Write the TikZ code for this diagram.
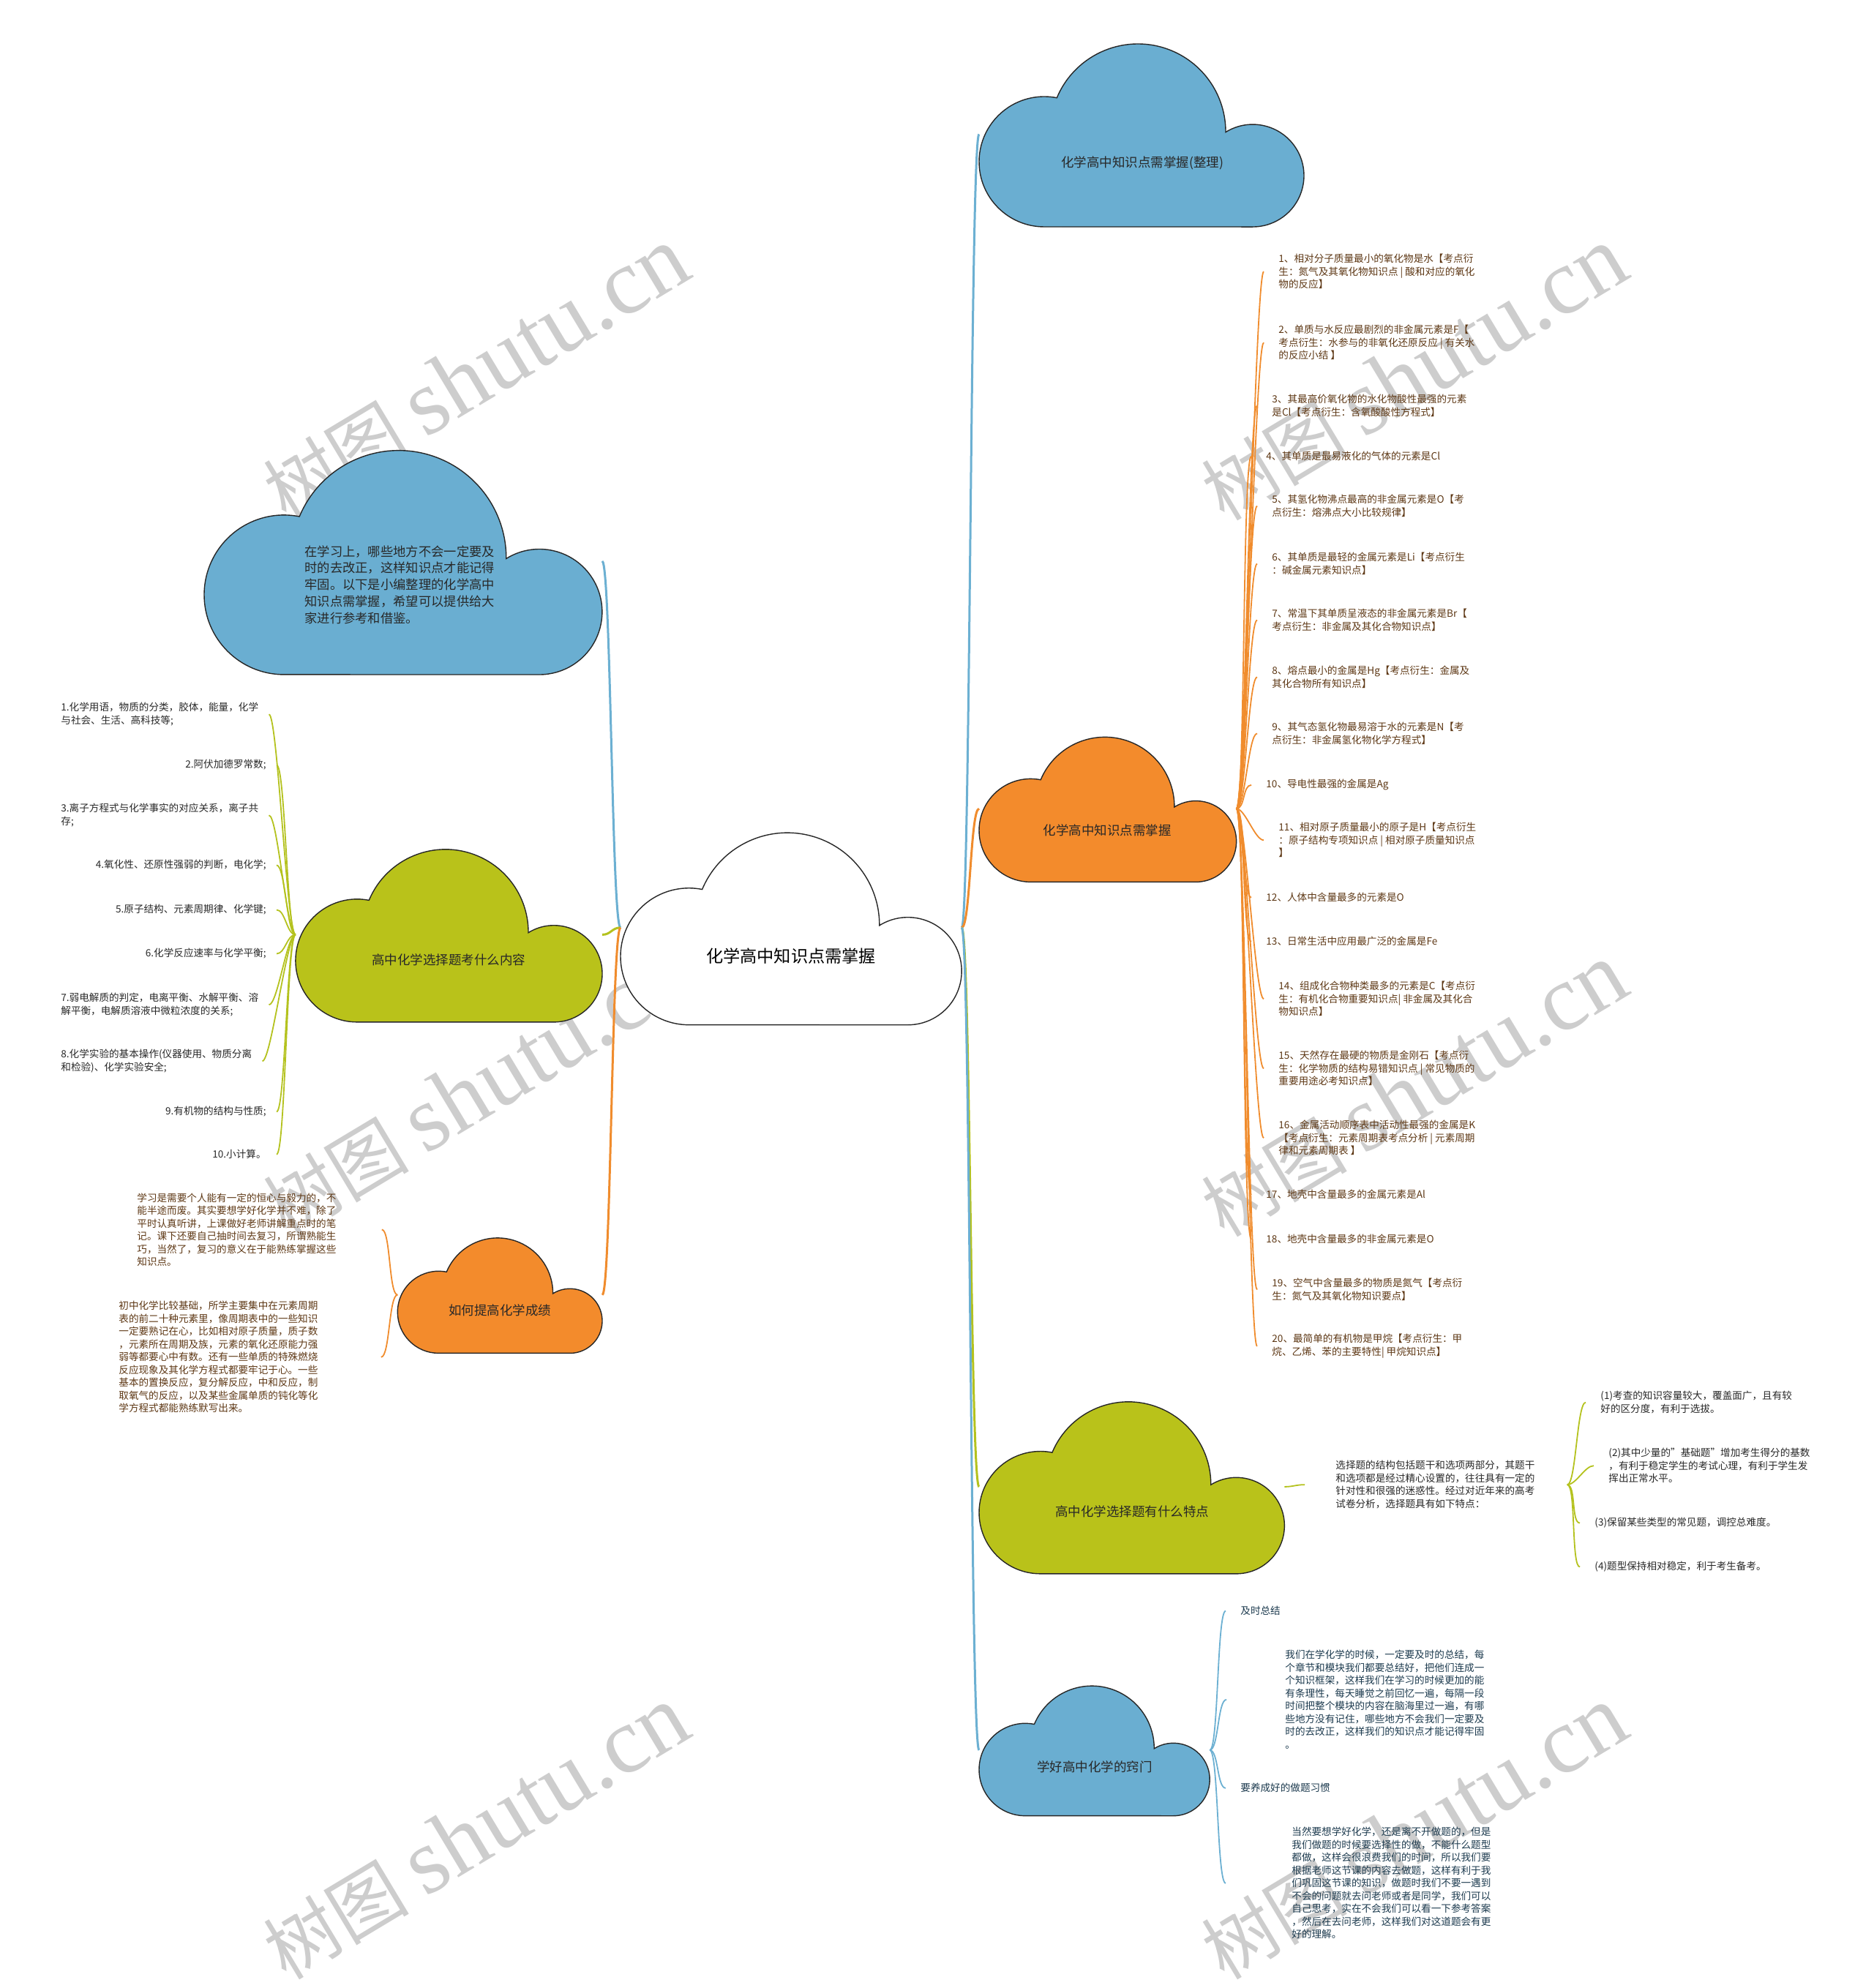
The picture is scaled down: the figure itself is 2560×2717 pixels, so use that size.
\documentclass[tikz,border=0pt]{standalone}
\usepackage{fontspec}
\setmainfont{Noto Sans CJK SC}
\newfontfamily\wmlatin{Liberation Serif}
\usepackage{tikz}
\definecolor{cloudBlue}{RGB}{106,174,209}
\definecolor{cloudOrange}{RGB}{243,139,44}
\definecolor{cloudGreen}{RGB}{185,194,26}
\definecolor{lineBlue}{RGB}{108,176,210}
\definecolor{lineOrange}{RGB}{240,140,45}
\definecolor{lineGreen}{RGB}{180,194,30}
\definecolor{txtBrown}{RGB}{93,55,20}
\definecolor{txtDark}{RGB}{40,40,40}
\definecolor{txtNavy}{RGB}{28,58,78}
\definecolor{wmGray}{RGB}{205,205,205}

% cloud outline: name, left, top, scale, fill
\newcommand{\drawcloud}[5]{%
  \filldraw[cloudedge, fill=#5, shift={(#2,#3)}, scale=#4]
    (89,253) arc[start angle=90, end angle=281.2, radius=89]
    arc[start angle=202.7, end angle=360.3, radius=120]
    arc[start angle=238.1, end angle=450, radius=70] -- cycle;
  \coordinate (#1-w) at (#2,{#3+126.5*#4});
  \coordinate (#1-e) at ({#2+444*#4},{#3+126.5*#4});
}

\begin{document}
\begin{tikzpicture}[x=0.5pt,y=-0.5pt,
    cloudedge/.style={draw=black!85, line width=0.7pt},
    cloudtext/.style={font=\fontsize{8.75pt}{10.5pt}\selectfont, text=txtDark, inner sep=0pt},
    smalltxt/.style={font=\fontsize{6.8pt}{8.75pt}\selectfont, inner sep=0pt, align=left},
    mainlink/.style={line width=1.5pt},
    sublink/.style={line width=0.9pt},
    rlink/.style={to path={.. controls +(12,0) and +(-12,0) .. (\tikztotarget)}},
    llink/.style={to path={.. controls +(-12,0) and +(12,0) .. (\tikztotarget)}},
    wmark/.style={text=wmGray, rotate=31, inner sep=0pt}]
    \useasboundingbox (0,0) rectangle (2560,2717);

    % watermarks
    \foreach \wx/\wy [count=\n] in {650/511, 1932/511, 650/1490, 1932/1490, 650/2505, 1932/2505}
        \node[wmark] (wm\n) at (\wx,\wy) {{\fontsize{50pt}{50pt}\selectfont 树图 }{\wmlatin\fontsize{64pt}{64pt}\selectfont shutu.cn}};

    % clouds
    \drawcloud{root}{848}{1135}{1.05}{white}
    \drawcloud{whole}{1338}{57}{1.0}{cloudBlue}
    \drawcloud{intro}{279}{612}{1.225}{cloudBlue}
    \drawcloud{know}{1338}{1005}{0.792}{cloudOrange}
    \drawcloud{sel}{403.9}{1158}{0.944}{cloudGreen}
    \drawcloud{boost}{543.3}{1690}{0.63}{cloudOrange}
    \drawcloud{feat}{1338}{1913}{0.94}{cloudGreen}
    \drawcloud{tips}{1338}{2302}{0.71}{cloudBlue}

    % cloud labels
    \node[cloudtext, text=black, font=\fontsize{11.6pt}{13pt}\selectfont] (root) at (1081,1307) {化学高中知识点需掌握};
    \node[cloudtext] (whole) at (1561,223) {化学高中知识点需掌握(整理)};
    \node[cloudtext] (know) at (1513,1135) {化学高中知识点需掌握};
    \node[cloudtext] (sel) at (613,1312) {高中化学选择题考什么内容};
    \node[cloudtext] (boost) at (683,1791) {如何提高化学成绩};
    \node[cloudtext] (feat) at (1547,2066) {高中化学选择题有什么特点};
    \node[cloudtext] (tips) at (1496,2415) {学好高中化学的窍门};
    \node[cloudtext, align=left, anchor=north west, font=\fontsize{8.65pt}{11.4pt}\selectfont] (intro) at (416,745) {在学习上，哪些地方不会一定要及\\时的去改正，这样知识点才能记得\\牢固。以下是小编整理的化学高中\\知识点需掌握，希望可以提供给大\\家进行参考和借鉴。};

    % knowledge points
    \begin{scope}[every node/.style={smalltxt, text=txtBrown, anchor=north west}]
    \node (k1) at (1747,347) {1、相对分子质量最小的氧化物是水【考点衍\\生：氮气及其氧化物知识点 | 酸和对应的氧化\\物的反应】};
    \node (k2) at (1747,444) {2、单质与水反应最剧烈的非金属元素是F【\\考点衍生：水参与的非氧化还原反应 | 有关水\\的反应小结 】};
    \node (k3) at (1738,539) {3、其最高价氧化物的水化物酸性最强的元素\\是Cl【考点衍生：含氧酸酸性方程式】};
    \node (k4) at (1730,617) {4、其单质是最易液化的气体的元素是Cl};
    \node (k5) at (1738,676) {5、其氢化物沸点最高的非金属元素是O【考\\点衍生：熔沸点大小比较规律】};
    \node (k6) at (1738,755) {6、其单质是最轻的金属元素是Li【考点衍生\\：碱金属元素知识点】};
    \node (k7) at (1738,832) {7、常温下其单质呈液态的非金属元素是Br【\\考点衍生：非金属及其化合物知识点】};
    \node (k8) at (1738,910) {8、熔点最小的金属是Hg【考点衍生：金属及\\其化合物所有知识点】};
    \node (k9) at (1738,987) {9、其气态氢化物最易溶于水的元素是N【考\\点衍生：非金属氢化物化学方程式】};
    \node (k10) at (1730,1065) {10、导电性最强的金属是Ag};
    \node (k11) at (1747,1124) {11、相对原子质量最小的原子是H【考点衍生\\：原子结构专项知识点 | 相对原子质量知识点\\】};
    \node (k12) at (1730,1220) {12、人体中含量最多的元素是O};
    \node (k13) at (1730,1280) {13、日常生活中应用最广泛的金属是Fe};
    \node (k14) at (1747,1341) {14、组成化合物种类最多的元素是C【考点衍\\生：有机化合物重要知识点| 非金属及其化合\\物知识点】};
    \node (k15) at (1747,1436) {15、天然存在最硬的物质是金刚石【考点衍\\生：化学物质的结构易错知识点 | 常见物质的\\重要用途必考知识点】};
    \node (k16) at (1747,1531) {16、金属活动顺序表中活动性最强的金属是K\\【考点衍生：元素周期表考点分析 | 元素周期\\律和元素周期表 】};
    \node (k17) at (1730,1626) {17、地壳中含量最多的金属元素是Al};
    \node (k18) at (1730,1687) {18、地壳中含量最多的非金属元素是O};
    \node (k19) at (1738,1747) {19、空气中含量最多的物质是氮气【考点衍\\生：氮气及其氧化物知识要点】};
    \node (k20) at (1738,1823) {20、最简单的有机物是甲烷【考点衍生：甲\\烷、乙烯、苯的主要特性| 甲烷知识点】};
    \end{scope}

    % exam contents
    \begin{scope}[every node/.style={smalltxt, text=txtDark}]
    \node[anchor=north west] (q1) at (83,960) {1.化学用语，物质的分类，胶体，能量，化学\\与社会、生活、高科技等;};
    \node[anchor=north east] (q2) at (364,1038) {2.阿伏加德罗常数;};
    \node[anchor=north west] (q3) at (83,1098) {3.离子方程式与化学事实的对应关系，离子共\\存;};
    \node[anchor=north east] (q4) at (364,1175) {4.氧化性、还原性强弱的判断，电化学;};
    \node[anchor=north east] (q5) at (364,1236) {5.原子结构、元素周期律、化学键;};
    \node[anchor=north east] (q6) at (364,1296) {6.化学反应速率与化学平衡;};
    \node[anchor=north west] (q7) at (83,1357) {7.弱电解质的判定，电离平衡、水解平衡、溶\\解平衡，电解质溶液中微粒浓度的关系;};
    \node[anchor=north west] (q8) at (83,1434) {8.化学实验的基本操作(仪器使用、物质分离\\和检验)、化学实验安全;};
    \node[anchor=north east] (q9) at (364,1512) {9.有机物的结构与性质;};
    \node[anchor=north east] (q10) at (364,1571) {10.小计算。};
    \end{scope}

    % study advice
    \begin{scope}[every node/.style={smalltxt, text=txtBrown, anchor=north west}]
    \node (m1) at (187,1630) {学习是需要个人能有一定的恒心与毅力的，不\\能半途而废。其实要想学好化学并不难，除了\\平时认真听讲，上课做好老师讲解重点时的笔\\记。课下还要自己抽时间去复习，所谓熟能生\\巧，当然了，复习的意义在于能熟练掌握这些\\知识点。};
    \node (m2) at (162,1778) {初中化学比较基础，所学主要集中在元素周期\\表的前二十种元素里，像周期表中的一些知识\\一定要熟记在心，比如相对原子质量，质子数\\，元素所在周期及族，元素的氧化还原能力强\\弱等都要心中有数。还有一些单质的特殊燃烧\\反应现象及其化学方程式都要牢记于心。一些\\基本的置换反应，复分解反应，中和反应，制\\取氧气的反应，以及某些金属单质的钝化等化\\学方程式都能熟练默写出来。};
    \end{scope}

    % question features
    \begin{scope}[every node/.style={smalltxt, text=txtDark, anchor=north west}]
    \node (f0) at (1825,1996) {选择题的结构包括题干和选项两部分，其题干\\和选项都是经过精心设置的，往往具有一定的\\针对性和很强的迷惑性。经过对近年来的高考\\试卷分析，选择题具有如下特点：};
    \node (f1) at (2187,1901) {(1)考查的知识容量较大，覆盖面广，且有较\\好的区分度，有利于选拔。};
    \node (f2) at (2198,1979) {(2)其中少量的"基础题"增加考生得分的基数\\，有利于稳定学生的考试心理，有利于学生发\\挥出正常水平。};
    \node (f3) at (2179,2074) {(3)保留某些类型的常见题，调控总难度。};
    \node (f4) at (2179,2134) {(4)题型保持相对稳定，利于考生备考。};
    \end{scope}

    % tips
    \begin{scope}[every node/.style={smalltxt, text=txtNavy, anchor=north west}]
    \node (t1) at (1695,2195) {及时总结};
    \node (t2) at (1756,2255) {我们在学化学的时候，一定要及时的总结，每\\个章节和模块我们都要总结好，把他们连成一\\个知识框架，这样我们在学习的时候更加的能\\有条理性，每天睡觉之前回忆一遍，每隔一段\\时间把整个模块的内容在脑海里过一遍，有哪\\些地方没有记住，哪些地方不会我们一定要及\\时的去改正，这样我们的知识点才能记得牢固\\。};
    \node (t3) at (1695,2437) {要养成好的做题习惯};
    \node (t4) at (1765,2497) {当然要想学好化学，还是离不开做题的，但是\\我们做题的时候要选择性的做，不能什么题型\\都做，这样会很浪费我们的时间，所以我们要\\根据老师这节课的内容去做题，这样有利于我\\们巩固这节课的知识，做题时我们不要一遇到\\不会的问题就去问老师或者是同学，我们可以\\自己思考，实在不会我们可以看一下参考答案\\，然后在去问老师，这样我们对这道题会有更\\好的理解。};
    \end{scope}

    % main branches
    \draw[mainlink, lineBlue] (root-w) to[llink] (intro-e);
    \draw[mainlink, lineGreen] (root-w) to[llink] (sel-e);
    \draw[mainlink, lineOrange] (root-w) to[llink] (boost-e);
    \draw[mainlink, lineBlue] (root-e) to[rlink] (whole-w);
    \draw[mainlink, lineOrange] (root-e) to[rlink] (know-w);
    \draw[mainlink, lineGreen] (root-e) to[rlink] (feat-w);
    \draw[mainlink, lineBlue] (root-e) to[rlink] (tips-w);

    % sub branches
    \foreach \i in {1,...,20}
        \draw[sublink, lineOrange] (know-e) to[rlink] ([xshift=-10pt]k\i.west);
    \foreach \i in {1,...,10}
        \draw[sublink, lineGreen] (sel-w) to[llink] ([xshift=7pt]q\i.east);
    \draw[sublink, lineOrange] (boost-w) to[llink] ([xshift=31pt]m1.east);
    \draw[sublink, lineOrange] (boost-w) to[llink] ([xshift=43pt]m2.east);
    \draw[sublink, lineGreen] (feat-e) to[rlink] ([xshift=-21pt]f0.west);
    \foreach \i in {1,...,4}
        \draw[sublink, lineGreen] ([xshift=22pt]f0.east) to[rlink] ([xshift=-10pt]f\i.west);
    \draw[sublink, lineBlue] (tips-e) to[rlink] ([xshift=-10pt]t1.west);
    \draw[sublink, lineBlue] (tips-e) to[rlink] ([xshift=-40pt]t2.west);
    \draw[sublink, lineBlue] (tips-e) to[rlink] ([xshift=-10pt]t3.west);
    \draw[sublink, lineBlue] (tips-e) to[rlink] ([xshift=-45pt]t4.west);
\end{tikzpicture}
\end{document}
